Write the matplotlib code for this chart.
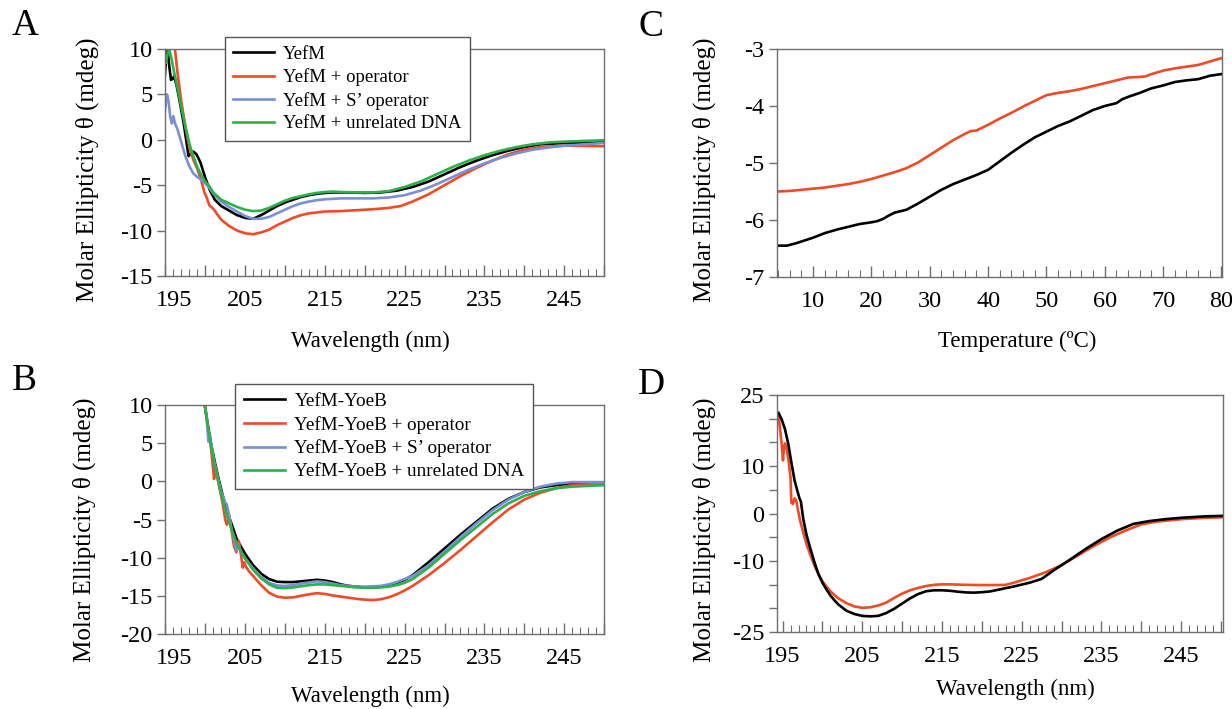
import numpy as np
import matplotlib
matplotlib.use("Agg")
import matplotlib.pyplot as plt
from matplotlib.transforms import ScaledTranslation

plt.rcParams['font.family'] = ['Liberation Serif', 'DejaVu Serif']
plt.rcParams['axes.unicode_minus'] = False

# ---- panel A : YefM ----
a_black_wl = [194.9, 195.1, 195.3, 195.5, 195.7, 195.9, 196.1, 196.4, 196.8, 197.3, 197.7, 197.9, 198.2, 198.5,
              198.9, 199.4, 200.0, 200.6, 201.2, 202, 203, 204, 205, 206, 207, 208, 209, 210, 211, 212, 213, 214,
              215, 216, 218, 220, 222, 224, 226, 228, 230, 232, 234, 236, 238, 240, 242, 245, 250]
a_black = [6.7, 9.0, 9.8, 8.0, 6.6, 6.7, 7.0, 6.0, 4.2, 1.8, -0.6, -1.8, -1.5, -1.3, -1.6, -2.5, -4.2, -5.6, -6.6,
           -7.3, -7.8, -8.3, -8.6, -8.7, -8.3, -7.8, -7.3, -6.9, -6.6, -6.3, -6.1, -5.95, -5.85, -5.8, -5.8, -5.85,
           -5.8, -5.6, -5.2, -4.6, -3.8, -3.0, -2.3, -1.7, -1.2, -0.8, -0.5, -0.35, -0.25]
a_red_wl = [196.1, 196.2, 196.5, 197, 197.5, 198, 198.5, 199, 199.5, 199.9, 200.2, 200.5, 201, 201.5, 202, 203, 204,
            205, 206, 207, 208, 209, 210, 211, 212, 213, 214, 215, 217, 219, 221, 223, 224.5, 226, 228, 230, 232,
            234, 236, 238, 240, 242, 245, 250]
a_red = [14, 10, 7.5, 4.2, 1.5, -0.8, -2.2, -3.2, -4.5, -5.8, -6.4, -7.2, -7.6, -8.2, -8.8, -9.5, -10.0, -10.3, -10.4,
         -10.2, -9.9, -9.4, -9.0, -8.6, -8.3, -8.1, -8.0, -7.9, -7.85, -7.75, -7.65, -7.5, -7.3, -6.8, -6.0, -5.0,
         -4.0, -3.1, -2.3, -1.6, -1.1, -0.8, -0.65, -0.7]
a_blue_wl = [194.9, 195.2, 195.4, 195.6, 195.8, 196.0, 196.2, 196.5, 197, 197.5, 198, 198.5, 199, 199.5, 200, 200.5,
             201, 202, 203, 204, 205, 206, 207, 208, 209, 210, 211, 212, 213, 214, 215, 217, 219, 221, 223, 225,
             227, 229, 231, 233, 235, 237, 239, 241, 243, 245, 250]
a_blue = [3.0, 5.0, 4.2, 2.6, 1.8, 2.6, 1.8, 1.2, -0.3, -1.8, -2.9, -3.7, -4.1, -4.4, -4.8, -5.3, -5.9, -6.8, -7.4,
          -7.9, -8.4, -8.7, -8.7, -8.5, -8.1, -7.7, -7.3, -7.0, -6.8, -6.65, -6.55, -6.45, -6.45, -6.45, -6.35, -6.1,
          -5.6, -4.9, -4.1, -3.3, -2.6, -2.0, -1.5, -1.1, -0.85, -0.65, -0.35]
a_green_wl = [195.1, 195.3, 195.5, 195.8, 196.1, 196.5, 197, 197.5, 198, 198.5, 199, 199.5, 200, 200.5, 201, 202, 203,
              204, 205, 206, 207, 208, 209, 210, 211, 212, 213, 214, 215, 216, 217, 219, 221, 223, 225, 227, 229,
              231, 233, 235, 237, 239, 241, 243, 245, 250]
a_green = [8.5, 9.6, 9.9, 8.8, 7.4, 5.8, 3.6, 1.5, -0.4, -1.8, -3.0, -3.9, -4.6, -5.1, -5.8, -6.6, -7.0, -7.4, -7.7,
           -7.85, -7.8, -7.5, -7.1, -6.7, -6.4, -6.2, -6.0, -5.85, -5.75, -5.7, -5.75, -5.8, -5.8, -5.65, -5.2, -4.6,
           -3.8, -3.0, -2.3, -1.7, -1.2, -0.8, -0.5, -0.3, -0.2, -0.05]
a_labels = ['YefM', 'YefM + operator', 'YefM + S\u2019 operator', 'YefM + unrelated DNA']

# ---- panel B : YefM-YoeB ----
b_black_wl = [199.9, 200.3, 200.7, 201.2, 201.7, 202.2, 202.7, 203.2, 204, 205, 206, 207, 208, 209, 210, 211, 212,
              213, 214, 215, 216, 217, 218, 219, 220, 221, 222, 223, 224, 225, 226, 228, 230, 232, 234, 236, 238,
              240, 242, 244, 246, 250]
b_black = [10.3, 7.5, 5.0, 2.5, 0.2, -1.9, -3.8, -5.3, -7.7, -9.5, -11.0, -12.1, -12.8, -13.15, -13.2, -13.2, -13.1,
           -13.0, -12.9, -13.0, -13.2, -13.5, -13.7, -13.8, -13.9, -13.9, -13.8, -13.6, -13.3, -12.9, -12.3, -10.6,
           -8.8, -7.0, -5.3, -3.6, -2.3, -1.4, -0.8, -0.5, -0.3, -0.2]
b_red_wl = [199.9, 200.3, 200.7, 201.0, 201.1, 201.3, 201.7, 202.2, 202.5, 202.7, 203.0, 203.3, 203.6, 203.9, 204.2,
            204.5, 204.7, 204.9, 205.1, 205.5, 206, 207, 208, 209, 210, 211, 212, 213, 214, 215, 216, 217, 218, 219,
            220, 221, 222, 223, 224, 225, 226, 228, 230, 232, 234, 236, 238, 240, 242, 244, 246, 250]
b_red = [10.3, 7.5, 4.5, 1.5, 0.3, 1.8, -0.5, -3.0, -5.0, -5.7, -4.5, -6.5, -8.5, -9.3, -7.8, -9.8, -11.3, -10.6,
         -11.2, -11.8, -12.4, -13.6, -14.6, -15.1, -15.25, -15.2, -15.0, -14.8, -14.65, -14.75, -14.95, -15.1, -15.25,
         -15.4, -15.5, -15.55, -15.45, -15.2, -14.8, -14.3, -13.7, -12.3, -10.7, -9.0, -7.2, -5.4, -3.7, -2.4, -1.5,
         -0.9, -0.5, -0.3]
b_blue_wl = [199.9, 200.2, 200.4, 200.6, 201, 201.5, 202, 202.5, 202.7, 203, 203.3, 203.6, 203.9, 204.1, 204.5, 205,
             206, 207, 208, 209, 210, 211, 212, 213, 214, 215, 216, 217, 218, 219, 220, 221, 222, 223, 224, 225, 226,
             228, 230, 232, 234, 236, 238, 240, 242, 244, 246, 250]
b_blue = [10.3, 8.0, 5.2, 6.0, 3.2, 0.8, -1.3, -2.8, -3.0, -4.5, -6.3, -7.6, -9.0, -8.3, -9.3, -10.1, -11.4, -12.5,
          -13.3, -13.65, -13.7, -13.6, -13.4, -13.25, -13.1, -13.2, -13.4, -13.6, -13.7, -13.8, -13.8, -13.75, -13.7,
          -13.5, -13.2, -12.8, -12.4, -11.0, -9.2, -7.3, -5.5, -3.8, -2.4, -1.4, -0.7, -0.3, -0.1, -0.1]
b_green_wl = [199.9, 200.3, 200.7, 201.2, 201.7, 202.2, 202.7, 203.2, 204, 205, 206, 207, 208, 209, 210, 211, 212,
              213, 214, 215, 216, 217, 218, 219, 220, 221, 222, 223, 224, 225, 226, 228, 230, 232, 234, 236, 238,
              240, 242, 244, 246, 250]
b_green = [10.3, 7.3, 4.8, 2.0, -0.3, -2.5, -4.4, -6.0, -8.3, -10.1, -11.6, -12.7, -13.5, -13.95, -14.0, -13.9,
           -13.75, -13.6, -13.5, -13.5, -13.6, -13.7, -13.8, -13.9, -13.95, -13.95, -13.9, -13.8, -13.6, -13.3, -12.8,
           -11.3, -9.5, -7.7, -6.0, -4.3, -2.9, -1.9, -1.3, -0.9, -0.7, -0.5]
b_labels = ['YefM-YoeB', 'YefM-YoeB + operator', 'YefM-YoeB + S\u2019 operator', 'YefM-YoeB + unrelated DNA']

# ---- panel C : thermal melt ----
c_red_t = [3.9, 6, 8, 10, 12, 14, 16, 18, 20, 22, 24, 26, 28, 30, 32, 34, 36, 37, 38, 40, 42, 44, 46, 48, 50, 52, 54,
           56, 58, 60, 62, 64, 66, 67, 68, 70, 72, 74, 76, 78, 80]
c_red = [-5.50, -5.49, -5.47, -5.45, -5.43, -5.40, -5.37, -5.33, -5.28, -5.22, -5.16, -5.09, -4.99, -4.86, -4.73,
         -4.60, -4.49, -4.44, -4.43, -4.33, -4.22, -4.12, -4.01, -3.91, -3.81, -3.77, -3.74, -3.70, -3.65, -3.60,
         -3.55, -3.50, -3.49, -3.48, -3.44, -3.38, -3.34, -3.31, -3.28, -3.22, -3.16]
c_black_t = [3.9, 5.5, 7, 8.5, 10, 12, 14, 16, 18, 20, 21, 22, 23, 24, 26, 28, 30, 32, 34, 36, 38, 40, 42, 44, 46, 48,
             50, 52, 54, 56, 58, 60, 62, 63, 64, 66, 68, 70, 72, 74, 76, 78, 80]
c_black = [-6.45, -6.45, -6.41, -6.36, -6.31, -6.23, -6.17, -6.12, -6.07, -6.04, -6.02, -5.98, -5.92, -5.87, -5.82,
           -5.71, -5.59, -5.47, -5.37, -5.29, -5.21, -5.12, -4.97, -4.82, -4.68, -4.55, -4.45, -4.35, -4.27, -4.17,
           -4.07, -4.00, -3.95, -3.88, -3.84, -3.77, -3.69, -3.64, -3.58, -3.55, -3.53, -3.47, -3.44]

# ---- panel D ----
d_black_wl = [194.5, 194.9, 195.3, 195.7, 196.1, 196.5, 196.9, 197.1, 197.3, 197.6, 198, 198.5, 199, 199.5, 200,
              200.5, 201, 201.5, 202, 203, 204, 205, 206, 207, 208, 209, 210, 211, 212, 213, 214, 215, 216, 217,
              218, 219, 220, 221, 222, 224, 226, 227.5, 229, 231, 233, 235, 237, 239, 241, 243, 245, 248, 250.2]
d_black = [21.2, 19.8, 17.8, 14.8, 10.8, 7.0, 4.5, 3.3, 2.5, -1.2, -4.5, -7.5, -10.3, -12.8, -14.6, -16.0, -17.3,
           -18.3, -19.2, -20.5, -21.2, -21.6, -21.7, -21.6, -21.0, -20.1, -19.0, -17.9, -17.0, -16.4, -16.2, -16.2,
           -16.3, -16.5, -16.65, -16.7, -16.6, -16.45, -16.1, -15.4, -14.6, -13.8, -12.0, -9.8, -7.5, -5.4, -3.6,
           -2.2, -1.6, -1.2, -0.9, -0.6, -0.5]
d_red_wl = [194.5, 194.7, 194.9, 195.05, 195.15, 195.3, 195.5, 195.8, 196.0, 196.1, 196.3, 196.5, 196.7, 196.9,
            197.2, 197.6, 198, 198.5, 199, 199.5, 200, 200.5, 201, 201.5, 202, 203, 204, 205, 206, 207, 208, 209,
            210, 211, 212, 213, 214, 215, 216, 218, 220, 222, 223, 224, 226, 228, 230, 232, 234, 236, 238, 240, 242,
            245, 248, 250.2]
d_red = [20.8, 17.5, 14.5, 11.2, 13.5, 14.8, 13.8, 10.5, 7.5, 2.3, 2.0, 3.2, 2.8, 1.0, -1.5, -4.0, -6.5, -8.8, -11.0,
         -12.8, -14.3, -15.4, -16.4, -17.2, -17.9, -18.9, -19.6, -19.9, -19.8, -19.4, -18.8, -17.8, -16.9, -16.2,
         -15.7, -15.3, -15.05, -14.95, -14.95, -15.05, -15.1, -15.1, -15.05, -14.6, -13.6, -12.4, -10.9, -8.9, -6.9,
         -5.1, -3.6, -2.3, -1.7, -1.2, -0.9, -0.8]

BLACK = '#000000'
RED = '#f04a26'
BLUE = '#7a8fd4'
GREEN = '#2bb24c'
FRAME = '#6e6e6e'
LW = 1.9
W, H = 1232, 709


def px_box(left, right, top, bottom):
    return [left / W, 1 - bottom / H, (right - left) / W, (bottom - top) / H]


def frame_style(ax):
    for s in ax.spines.values():
        s.set_color(FRAME)
        s.set_linewidth(1.0)
    ax.tick_params(axis='y', which='major', direction='out', length=6, width=1, color=FRAME,
                   labelsize=17.5, pad=3)
    ax.tick_params(axis='x', which='major', direction='in', length=8, width=1, color=FRAME,
                   labelsize=17.5, pad=10)
    ax.tick_params(axis='x', which='minor', direction='in', length=5, width=0.8, color=FRAME)
    ax.set_ylabel('Molar Ellipticity \u03b8 (mdeg)', fontsize=18)


def wave_axis(ax, xlim, shift_first):
    ax.set_xlim(*xlim)
    maj = np.arange(195, 251, 5)
    ax.set_xticks(maj)
    ax.set_xticklabels([str(v) if v % 10 == 5 else '' for v in maj])
    ax.set_xticks(np.arange(195, 251, 1), minor=True)
    ax.set_xlabel('Wavelength (nm)', fontsize=16.5)
    if shift_first:
        lbl = ax.xaxis.get_major_ticks()[0].label1
        lbl.set_transform(lbl.get_transform() + ScaledTranslation(9 / 100, 0, fig.dpi_scale_trans))


def add_legend(ax, labels, colors, x, y, size):
    handles = [plt.Line2D([], [], color=c, lw=LW) for c in colors]
    leg = ax.legend(handles, labels, loc='upper left', bbox_to_anchor=(x / W, 1 - y / H),
                    bbox_transform=fig.transFigure, fancybox=False, framealpha=1, edgecolor='#555555',
                    fontsize=size, handlelength=2.15, handletextpad=0.5, labelspacing=0.3,
                    borderpad=0.45, borderaxespad=0)
    leg.get_frame().set_linewidth(1.0)
    leg.set_zorder(10)


fig = plt.figure(figsize=(W / 100, H / 100), dpi=100)
axA = fig.add_axes(px_box(165, 604, 49, 276))
axB = fig.add_axes(px_box(165, 604, 405, 634))
axC = fig.add_axes(px_box(777, 1222, 49, 277))
axD = fig.add_axes(px_box(777, 1223, 395, 632))

# A
axA.plot(a_black_wl, a_black, color=BLACK, lw=LW)
axA.plot(a_red_wl, a_red, color=RED, lw=LW)
axA.plot(a_blue_wl, a_blue, color=BLUE, lw=LW)
axA.plot(a_green_wl, a_green, color=GREEN, lw=LW)
axA.set_ylim(-15, 10)
axA.set_yticks([10, 5, 0, -5, -10, -15])
frame_style(axA)
wave_axis(axA, (194.95, 250), True)
add_legend(axA, a_labels, [BLACK, RED, BLUE, GREEN], 225, 37, 13.5)
axA.yaxis.set_label_coords(-0.150, 0.47)
axA.xaxis.set_label_coords(0.467, -0.242)

# B
axB.plot(b_black_wl, b_black, color=BLACK, lw=LW)
axB.plot(b_red_wl, b_red, color=RED, lw=LW)
axB.plot(b_blue_wl, b_blue, color=BLUE, lw=LW)
axB.plot(b_green_wl, b_green, color=GREEN, lw=LW)
axB.set_ylim(-20, 10)
axB.set_yticks([10, 5, 0, -5, -10, -15, -20])
frame_style(axB)
wave_axis(axB, (194.95, 250), True)
add_legend(axB, b_labels, [BLACK, RED, BLUE, GREEN], 235, 384, 13.8)
axB.yaxis.set_label_coords(-0.157, 0.455)
axB.xaxis.set_label_coords(0.467, -0.225)

# C
axC.plot(c_red_t, c_red, color=RED, lw=LW)
axC.plot(c_black_t, c_black, color=BLACK, lw=LW)
axC.set_xlim(3.8, 80.1)
axC.set_ylim(-7, -3)
axC.set_yticks([-3, -4, -5, -6, -7])
axC.set_xticks(np.arange(10, 81, 10))
axC.set_xticks(np.arange(4, 81, 2), minor=True)
frame_style(axC)
axC.set_xlabel('Temperature (\u00baC)', fontsize=16.5)
axC.yaxis.set_label_coords(-0.137, 0.47)
axC.xaxis.set_label_coords(0.54, -0.237)

# D
axD.plot(d_red_wl, d_red, color=RED, lw=LW)
axD.plot(d_black_wl, d_black, color=BLACK, lw=LW)
axD.set_ylim(-25, 25)
d_ticks = np.arange(25, -26, -5)
axD.set_yticks(d_ticks)
axD.set_yticklabels([str(v) if v in (25, 10, 0, -10, -25) else '' for v in d_ticks])
frame_style(axD)
wave_axis(axD, (194.3, 250.25), False)
axD.yaxis.set_label_coords(-0.137, 0.43)
axD.xaxis.set_label_coords(0.534, -0.198)

for letter, x, y in [('A', 25, 26), ('B', 24, 381), ('C', 651, 27), ('D', 651, 385)]:
    fig.text(x / W, 1 - y / H, letter, fontsize=27, ha='center', va='center')

fig.savefig('out.png', dpi=100)
